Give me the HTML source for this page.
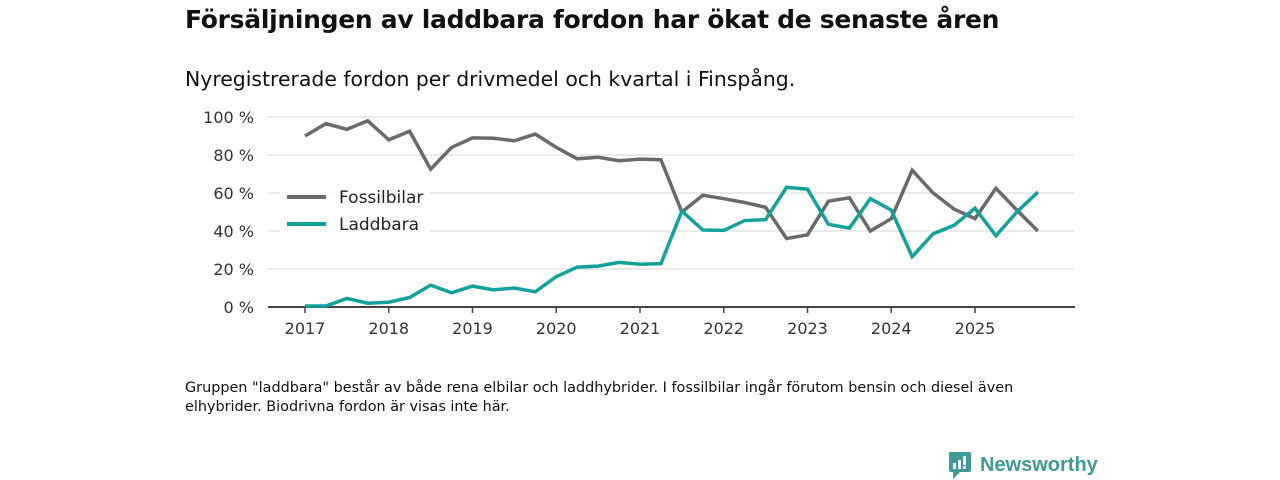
<!DOCTYPE html>
<html><head><meta charset="utf-8"><style>
body{margin:0;width:1280px;height:480px;background:#fff;font-family:"Liberation Sans","DejaVu Sans",sans-serif;overflow:hidden;position:relative;color:#111}
.t{position:absolute;left:185px;top:5px;font-size:25px;font-weight:bold;font-family:"DejaVu Sans",sans-serif;letter-spacing:-0.3px}
.s{position:absolute;left:185px;top:67px;font-size:20.4px;font-family:"DejaVu Sans",sans-serif}
.f{position:absolute;left:185px;top:379px;font-size:14.4px;line-height:19px;font-family:"DejaVu Sans",sans-serif;width:850px}
</style></head><body>
<div class="t">Försäljningen av laddbara fordon har ökat de senaste åren</div>
<div class="s">Nyregistrerade fordon per drivmedel och kvartal i Finspång.</div>
<svg id="c" width="1280" height="480" style="position:absolute;left:0;top:0"></svg>
<div class="f">Gruppen "laddbara" består av både rena elbilar och laddhybrider. I fossilbilar ingår förutom bensin och diesel även elhybrider. Biodrivna fordon är visas inte här.</div>
<div style="position:absolute;left:948px;top:450px;display:flex;align-items:center">
<svg width="24" height="30"><rect x="1" y="2" width="22" height="20" rx="2" fill="#3f9b95"/><polygon points="5,22 12,22 5,29" fill="#3f9b95"/><rect x="5" y="13" width="3" height="6" fill="#fff"/><rect x="10" y="10" width="3" height="9" fill="#fff"/><rect x="15" y="6" width="3" height="9" fill="#fff"/><rect x="15" y="16" width="3" height="3" fill="#fff"/></svg>
<span style="color:#3f9b95;font-size:20px;font-weight:bold;margin-left:8px">Newsworthy</span></div>
<script>
const years=[2017,2018,2019,2020,2021,2022,2023,2024,2025];
const yTicks=[0,20,40,60,80,100];
const fossil=[90,96.5,93.5,98,88,92.5,72.5,84,89,88.8,87.5,91,84,78,78.8,77,77.8,77.5,50,58.8,57,55,52.5,36,38,55.7,57.5,40,46.5,72,60,51.5,46.5,62.5,51,40];
const laddbara=[0.5,0.5,4.5,2,2.5,5,11.5,7.5,11,9,10,8,16,21,21.5,23.5,22.5,22.8,50.5,40.5,40.3,45.5,46,63,62,43.5,41.5,57,51,26.5,38.5,43,52,37.5,50,60.5];
const svg=document.getElementById('c');const NS='http://www.w3.org/2000/svg';
const X=t=>305+(t-2017)*83.75;const Y=v=>307-v*1.9;
function el(tag,a){const e=document.createElementNS(NS,tag);for(const k in a)e.setAttribute(k,a[k]);svg.appendChild(e);return e;}
yTicks.forEach(v=>{if(v>0){const g=el('line',{x1:268,x2:1075,y1:Y(v),y2:Y(v),stroke:'#ddd','stroke-width':1.2});

}
const t=el('text',{x:254,y:Y(v)+6,'text-anchor':'end','font-size':16,fill:'#333','font-family':'DejaVu Sans, sans-serif'});t.textContent=v+' %';

});
const ax=el('line',{x1:268,x2:1075,y1:307,y2:307,stroke:'#444','stroke-width':2});


years.forEach(y=>{const tk=el('line',{x1:X(y),x2:X(y),y1:307,y2:313,stroke:'#444','stroke-width':1.5});


const t=el('text',{x:X(y),y:334,'text-anchor':'middle','font-size':16,fill:'#333','font-family':'DejaVu Sans, sans-serif'});t.textContent=y;

});
function line(d,c,n){const p=el('polyline',{points:d.map((v,i)=>X(2017+i/4)+','+Y(v)).join(' '),fill:'none',stroke:c,'stroke-width':3.5,'stroke-linejoin':'miter'});

}
line(fossil,'#6b6a6b','fossilbilar-line');line(laddbara,'#13a19b','laddbara-line');
[['Fossilbilar','#6b6a6b',197],['Laddbara','#13a19b',224]].forEach(([n,c,y])=>{
el('rect',{x:280,y:y-14,width:150,height:26,fill:'#fff','fill-opacity':0.85});
const l=el('line',{x1:287,x2:326,y1:y,y2:y,stroke:c,'stroke-width':4});


const t=el('text',{x:339,y:y+6,'font-size':17,fill:'#222','font-family':'DejaVu Sans, sans-serif'});t.textContent=n;

});
</script>
</body></html>
